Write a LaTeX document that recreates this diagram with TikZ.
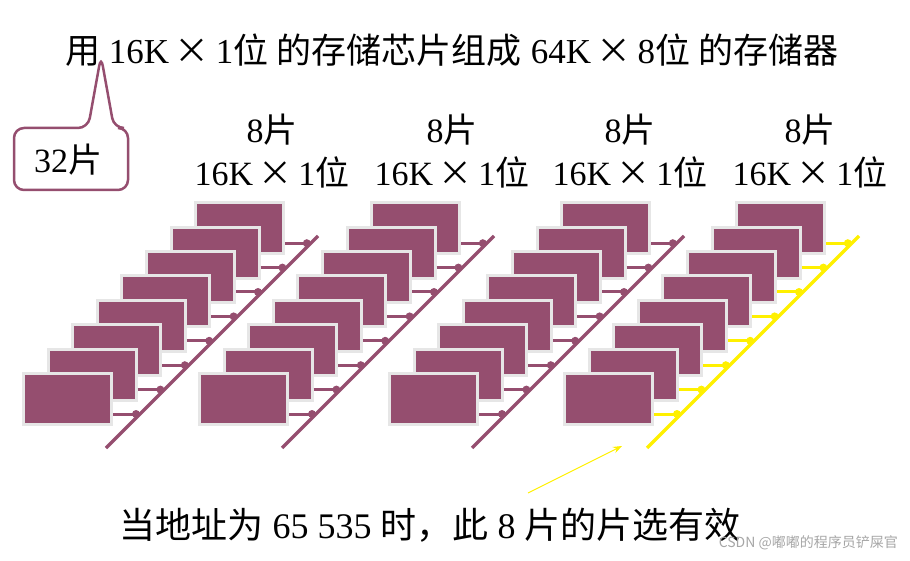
\documentclass[tikz,border=0pt]{standalone}
\usepackage{fontspec}
\usetikzlibrary{arrows.meta}
\setmainfont{Liberation Serif}
\newfontfamily\cjk{Noto Sans CJK SC}
\newcommand{\tms}{\,{\cjk ×}\,}
\begin{document}
\begin{tikzpicture}[x=1pt,y=-1pt,
  chip/.style={fill={rgb,255:red,149;green,78;blue,111},draw={rgb,255:red,230;green,230;blue,230},line width=3pt},
  txt/.style={inner sep=0pt,font=\fontsize{34}{38}\selectfont}]
\definecolor{plum}{RGB}{149,78,111}
\definecolor{yel}{RGB}{255,240,0}
\useasboundingbox (0,0) rectangle (910,561);
\node[txt,font=\fontsize{35}{39}\selectfont] (title) at (452,50) {{\cjk 用} 16K\tms 1{\cjk 位} {\cjk 的存储芯片组成} 64K\tms 8{\cjk 位} {\cjk 的存储器}};
% callout
\draw[plum,line width=2.5pt,rounded corners=10pt,fill=white] (88,128) -- (101,56) -- (114,128) -- (128,128) -- (128,190) -- (14,190) -- (14,128) -- cycle;
\node[txt] (n32) at (68,160) {32{\cjk 片}};
% groups
\foreach \gx/\bc/\gi in {22/plum/1,198/plum/2,388/plum/3,563/yel/4}{
  \coordinate (bA\gi) at (\gx+84,448);
  \coordinate (bB\gi) at (\gx+296,236);
  \foreach \k in {7,...,0}{
    \pgfmathsetmacro{\cx}{\gx+24.6*\k}
    \pgfmathsetmacro{\cy}{372-24.4*\k}
    \pgfmathsetmacro{\yc}{\cy+42}
    \pgfmathsetmacro{\bx}{\gx+84+(448-\yc)}
    \node[chip,minimum width=88pt,minimum height=51pt,inner sep=0pt,anchor=north west] (c\gi\k) at (\cx,\cy) {};
    \coordinate (e\gi\k) at (\bx,\yc);
    \draw[\bc,line width=3pt] (c\gi\k.east |- e\gi\k) -- (e\gi\k);
    \fill[\bc] ([xshift=-4pt]e\gi\k) circle (4pt);
  }
  \draw[\bc,line width=3.5pt] (bA\gi) -- (bB\gi);
}
\foreach \x/\i in {272/1,452/2,630/3,810/4}{
  \node[txt] (a\i) at (\x,130) {8{\cjk 片}};
  \node[txt] (b\i) at (\x,172) {16K\tms 1{\cjk 位}};
}
\coordinate (p0) at (528,493);
\coordinate (p1) at (622,446);
\draw[yel,line width=1pt,-{Stealth[length=9pt]}] (p0) -- (p1);
\node[txt,font=\fontsize{36}{40}\selectfont] (bot) at (430,525) {{\cjk 当地址为} 65 535 {\cjk 时，此} 8 {\cjk 片的片选有效}};
\node[inner sep=0pt,text=gray!70,font=\fontsize{14}{16}\selectfont\cjk,anchor=east] (wm) at (898,543) {CSDN @嘟嘟的程序员铲屎官};
\end{tikzpicture}
\end{document}
